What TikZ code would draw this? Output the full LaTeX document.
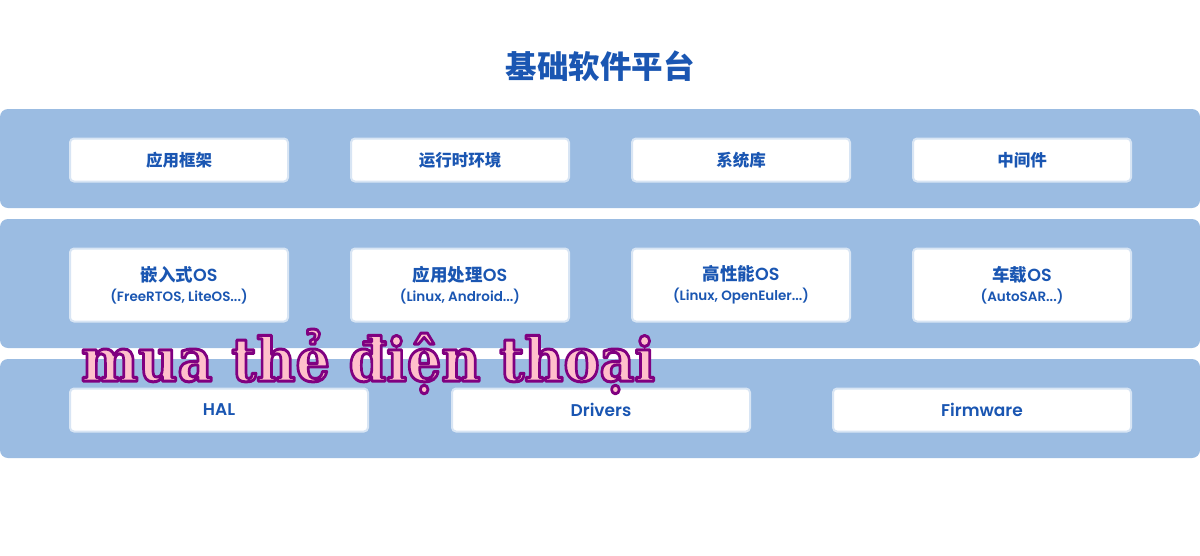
\documentclass[tikz,border=0pt]{standalone}
\usepackage{fontspec}
\newfontfamily\cjk{Noto Sans CJK SC}
\newfontfamily\lat{Poppins SemiBold}
\newfontfamily\wm{DejaVu Serif}
\usetikzlibrary{calc}
\definecolor{band}{HTML}{9BBCE2}
\definecolor{txt}{HTML}{1A56B2}
\definecolor{edge}{HTML}{D8E5F4}
\definecolor{wmfill}{HTML}{FFC0CB}
\definecolor{wmline}{HTML}{800080}
\tikzset{
  bandbox/.style={fill=band, rounded corners=8pt, draw=none},
  cell/.style={fill=white, draw=edge, line width=2pt, rounded corners=4pt,
    inner sep=0pt, text=txt, align=center},
}
\newcommand{\wmtext}{\wm\bfseries mua thẻ điện thoại}
\newcommand{\outlinetext}[1]{\special{pdf:literal direct 0.5 0 0.5 RG 3 w 1 j 2 Tr}#1\special{pdf:literal direct 0 Tr}}
\begin{document}
\begin{tikzpicture}[x=1pt,y=-1pt]
\useasboundingbox (0,0) rectangle (1200,555);
\fill[white] (0,0) rectangle (1200,555);
% title
\node[text=txt, font=\cjk\bfseries\fontsize{31.5}{34}\selectfont] (title) at (600,66) {基础软件平台};
% bands
\fill[bandbox] (0,109) rectangle (1200,208);
\fill[bandbox] (0,219) rectangle (1200,348);
\fill[bandbox] (0,359) rectangle (1200,458);
% band 1
\foreach \x/\t/\n in {69/应用框架/a1, 350/运行时环境/a2, 631/系统库/a3, 912/中间件/a4}{
  \node[cell, minimum width=218pt, minimum height=43pt, anchor=north west,
        font=\cjk\bfseries\fontsize{16.5}{18}\selectfont] (\n) at (\x,137.5) {\t};
}
% band 2
\newcommand{\osbox}[4]{%
  \node[cell, minimum width=218pt, minimum height=73pt, anchor=north west] (#1) at (#2,247.5)
  {{\cjk\bfseries\fontsize{17.5}{18}\selectfont #3}{\lat\fontsize{17.5}{18}\selectfont OS}\\[4.5pt]{\lat\fontsize{13.5}{15}\selectfont #4}};}
\osbox{b1}{69}{嵌入式}{(FreeRTOS, LiteOS...)}
\osbox{b2}{350}{应用处理}{(Linux, Android...)}
\osbox{b3}{631}{高性能}{(Linux, OpenEuler...)}
\osbox{b4}{912}{车载}{(AutoSAR...)}
% band 3
\foreach \x/\t/\n in {69/HAL/c1, 451/Drivers/c2, 832/Firmware/c3}{
  \node[cell, minimum width=298pt, minimum height=43pt, anchor=north west,
        font=\lat\fontsize{17}{18}\selectfont] (\n) at (\x,387.5) {\t};
}
% watermark text
\node[text=wmfill, anchor=base west, inner sep=0pt] (wm) at (81,381)
  {\scalebox{0.9}[1]{\fontsize{60}{60}\selectfont\outlinetext{\wmtext}}};
\end{tikzpicture}
\end{document}
